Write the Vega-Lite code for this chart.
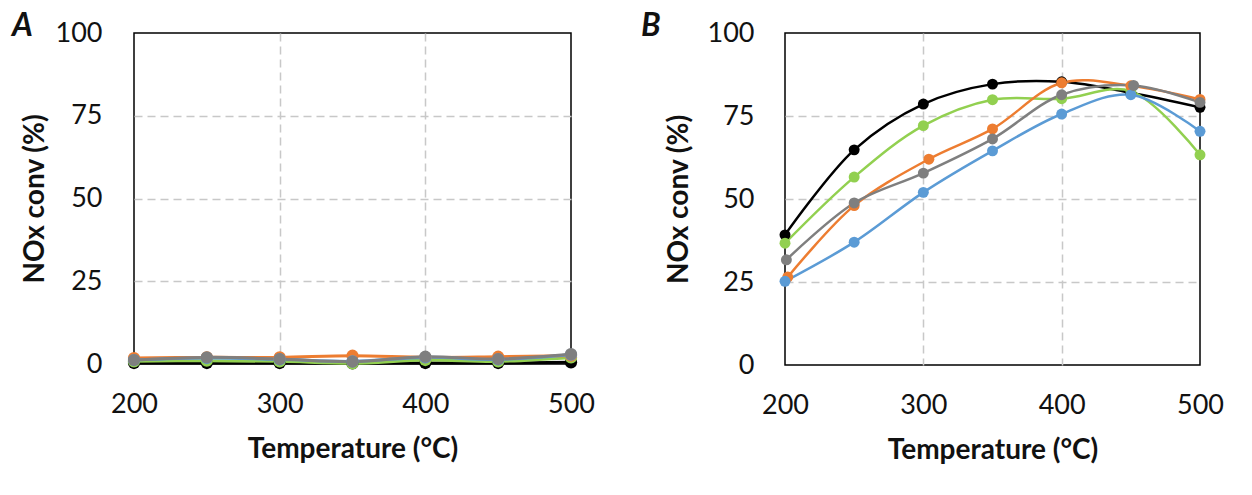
{
  "$schema": "https://vega.github.io/schema/vega-lite/v6.json",
  "background": "white",
  "padding": {"left": 11, "top": 9, "right": 0, "bottom": 0},
  "config": {
    "font": "Lato",
    "view": {"stroke": "#000000", "strokeWidth": 1.5},
    "axis": {
      "grid": true, "gridColor": "#c8c8c8", "gridDash": [8, 5], "gridWidth": 1.5,
      "domain": false, "ticks": false, "labelFlush": false, "labelOverlap": false,
      "labelFont": "Lato", "labelFontSize": 27, "labelColor": "#111111",
      "titleFont": "Lato", "titleFontSize": 28, "titleFontWeight": "bold", "titleColor": "#111111"
    },
    "axisX": {"gridOpacity": {"condition": {"test": "datum.value == 200 || datum.value == 500", "value": 0}, "value": 1}},
    "axisY": {"gridOpacity": {"condition": {"test": "datum.value == 0 || datum.value == 100", "value": 0}, "value": 1}}
  },
  "datasets": {
    "A": [
      {"series": "1black", "T": 200, "conv": 0.3}, {"series": "1black", "T": 250, "conv": 0.3}, {"series": "1black", "T": 300, "conv": 0.3}, {"series": "1black", "T": 350, "conv": 0.2}, {"series": "1black", "T": 400, "conv": 0.3}, {"series": "1black", "T": 450, "conv": 0.3}, {"series": "1black", "T": 500, "conv": 0.5},
      {"series": "2green", "T": 200, "conv": 0.8}, {"series": "2green", "T": 250, "conv": 1.0}, {"series": "2green", "T": 300, "conv": 0.8}, {"series": "2green", "T": 350, "conv": 0.2}, {"series": "2green", "T": 400, "conv": 1.2}, {"series": "2green", "T": 450, "conv": 0.8}, {"series": "2green", "T": 500, "conv": 2.0},
      {"series": "3orange", "T": 200, "conv": 1.8}, {"series": "3orange", "T": 250, "conv": 2.0}, {"series": "3orange", "T": 300, "conv": 2.0}, {"series": "3orange", "T": 350, "conv": 2.5}, {"series": "3orange", "T": 400, "conv": 2.0}, {"series": "3orange", "T": 450, "conv": 2.2}, {"series": "3orange", "T": 500, "conv": 2.5},
      {"series": "4blue", "T": 200, "conv": 1.2}, {"series": "4blue", "T": 250, "conv": 1.8}, {"series": "4blue", "T": 300, "conv": 1.4}, {"series": "4blue", "T": 350, "conv": 0.8}, {"series": "4blue", "T": 400, "conv": 2.0}, {"series": "4blue", "T": 450, "conv": 1.4}, {"series": "4blue", "T": 500, "conv": 2.8},
      {"series": "5gray", "T": 200, "conv": 1.2}, {"series": "5gray", "T": 250, "conv": 2.0}, {"series": "5gray", "T": 300, "conv": 1.5}, {"series": "5gray", "T": 350, "conv": 0.7}, {"series": "5gray", "T": 400, "conv": 2.2}, {"series": "5gray", "T": 450, "conv": 1.5}, {"series": "5gray", "T": 500, "conv": 3.0}
    ],
    "B": [
      {"series": "1black", "T": 200, "conv": 39.2}, {"series": "1black", "T": 250, "conv": 64.8}, {"series": "1black", "T": 300, "conv": 78.6}, {"series": "1black", "T": 350, "conv": 84.6}, {"series": "1black", "T": 400, "conv": 85.3}, {"series": "1black", "T": 450, "conv": 82.0}, {"series": "1black", "T": 500, "conv": 77.6},
      {"series": "2green", "T": 200, "conv": 36.7}, {"series": "2green", "T": 250, "conv": 56.6}, {"series": "2green", "T": 300, "conv": 72.1}, {"series": "2green", "T": 350, "conv": 79.9}, {"series": "2green", "T": 400, "conv": 80.2}, {"series": "2green", "T": 450, "conv": 82.5}, {"series": "2green", "T": 500, "conv": 63.3},
      {"series": "3orange", "T": 202, "conv": 26.5}, {"series": "3orange", "T": 250, "conv": 48.0}, {"series": "3orange", "T": 304, "conv": 62.0}, {"series": "3orange", "T": 350, "conv": 71.1}, {"series": "3orange", "T": 400, "conv": 85.0}, {"series": "3orange", "T": 450, "conv": 84.1}, {"series": "3orange", "T": 500, "conv": 80.0},
      {"series": "4blue", "T": 200, "conv": 25.2}, {"series": "4blue", "T": 250, "conv": 37.0}, {"series": "4blue", "T": 300, "conv": 52.0}, {"series": "4blue", "T": 350, "conv": 64.5}, {"series": "4blue", "T": 400, "conv": 75.6}, {"series": "4blue", "T": 450, "conv": 81.4}, {"series": "4blue", "T": 500, "conv": 70.4},
      {"series": "5gray", "T": 201, "conv": 31.7}, {"series": "5gray", "T": 250, "conv": 48.8}, {"series": "5gray", "T": 300, "conv": 57.8}, {"series": "5gray", "T": 350, "conv": 68.1}, {"series": "5gray", "T": 400, "conv": 81.4}, {"series": "5gray", "T": 452, "conv": 84.2}, {"series": "5gray", "T": 500, "conv": 79.1}
    ]
  },
  "bounds": "flush",
  "spacing": 214,
  "hconcat": [
    {
      "width": 437, "height": 331,
      "data": {"name": "A"},
      "title": {"text": "A", "font": "Lato", "fontSize": 32, "fontStyle": "italic", "fontWeight": "bold", "color": "#111111", "anchor": "start", "frame": "group", "baseline": "alphabetic", "dx": -122, "dy": 49, "offset": 0},
      "encoding": {
        "x": {"field": "T", "type": "quantitative", "scale": {"domain": [200, 500], "nice": false, "zero": false}, "axis": {"values": [200, 300, 400, 500], "title": "Temperature (°C)", "labelPadding": 27, "titlePadding": 18}},
        "y": {"field": "conv", "type": "quantitative", "scale": {"domain": [0, 100], "nice": false}, "axis": {"values": [0, 25, 50, 75, 100], "title": "NOx conv (%)", "labelPadding": 32, "titlePadding": 6}},
        "color": {"field": "series", "type": "nominal", "legend": null, "scale": {"domain": ["1black", "2green", "3orange", "4blue", "5gray"], "range": ["#000000", "#92d050", "#ed7d31", "#5b9bd5", "#7f7f7f"]}}
      },
      "layer": [
        {"mark": {"type": "line", "interpolate": "catmull-rom", "strokeWidth": 3}},
        {"mark": {"type": "point", "filled": true, "opacity": 1, "size": 150}}
      ]
    },
    {
      "width": 415, "height": 332,
      "data": {"name": "B"},
      "title": {"text": "B", "font": "Lato", "fontSize": 32, "fontStyle": "italic", "fontWeight": "bold", "color": "#111111", "anchor": "start", "frame": "group", "baseline": "alphabetic", "dx": -144, "dy": 49, "offset": 0},
      "encoding": {
        "x": {"field": "T", "type": "quantitative", "scale": {"domain": [200, 500], "nice": false, "zero": false}, "axis": {"values": [200, 300, 400, 500], "title": "Temperature (°C)", "labelPadding": 27, "titlePadding": 18}},
        "y": {"field": "conv", "type": "quantitative", "scale": {"domain": [0, 100], "nice": false}, "axis": {"values": [0, 25, 50, 75, 100], "title": "NOx conv (%)", "labelPadding": 31, "titlePadding": 14}},
        "color": {"field": "series", "type": "nominal", "legend": null, "scale": {"domain": ["1black", "2green", "3orange", "4blue", "5gray"], "range": ["#000000", "#92d050", "#ed7d31", "#5b9bd5", "#7f7f7f"]}}
      },
      "layer": [
        {"mark": {"type": "line", "interpolate": "catmull-rom", "strokeWidth": 2.5}},
        {"mark": {"type": "point", "filled": true, "opacity": 1, "size": 120}}
      ]
    }
  ]
}
